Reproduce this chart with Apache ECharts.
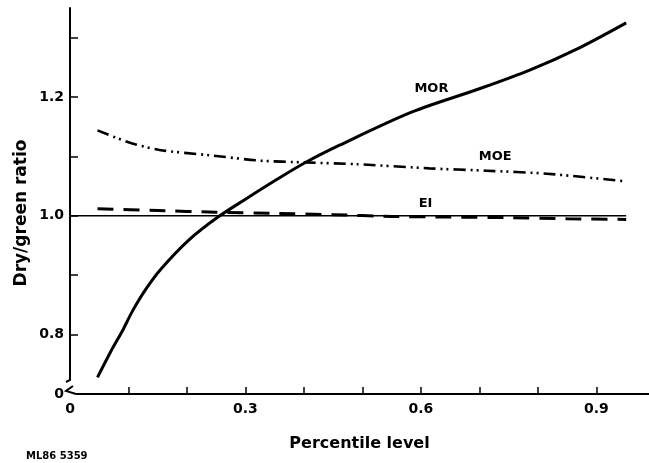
<!DOCTYPE html>
<html><head><meta charset="utf-8">
<script src="https://cdn.jsdelivr.net/npm/echarts@6/dist/echarts.min.js"></script>
<style>html,body{margin:0;padding:0;background:#fff}#c{width:649px;height:463px}</style>
</head><body><div id="c"></div>
<script>
// ---- data ----
const morX = [0.047, 0.07, 0.09, 0.107, 0.13, 0.156, 0.204, 0.253, 0.30, 0.35, 0.401, 0.461, 0.585, 0.70, 0.785, 0.871, 0.951];
const morY = [0.728, 0.772, 0.807, 0.840, 0.877, 0.911, 0.960, 0.998, 1.028, 1.059, 1.089, 1.119, 1.175, 1.214, 1.245, 1.283, 1.325];
const moeX = [0.047, 0.10, 0.153, 0.239, 0.324, 0.401, 0.49, 0.614, 0.712, 0.815, 0.951];
const moeY = [1.144, 1.124, 1.111, 1.102, 1.093, 1.090, 1.087, 1.080, 1.076, 1.071, 1.058];
const eiX = [0.047, 0.15, 0.25, 0.35, 0.45, 0.55, 0.65, 0.75, 0.85, 0.951];
const eiY = [1.012, 1.009, 1.006, 1.004, 1.002, 0.999, 0.998, 0.997, 0.995, 0.994];
const refX = [0, 0.951];
const refY = [1.0, 1.0];
const xTickValues = [0.1, 0.2, 0.3, 0.4, 0.5, 0.6, 0.7, 0.8, 0.9];
const xLabelValues = [0, 0.3, 0.6, 0.9];
const xLabelTexts = ['0', '0.3', '0.6', '0.9'];
const yTickValues = [0.8, 0.9, 1.0, 1.1, 1.2, 1.3];
const yLabelValues = [0.7, 0.8, 1.0, 1.2];
const yLabelTexts = ['0', '0.8', '1.0', '1.2'];
const curveNames = ['MOR', 'MOE', 'EI'];
const curveLabelX = [0.618, 0.727, 0.608];
const curveLabelY = [1.2135, 1.1004, 1.021];
const yBreakTop = 0.7236;

const zip = (xs, ys) => xs.map((x, i) => [x, ys[i]]);
const pick = (vals, texts) => v => { const i = vals.findIndex(a => Math.abs(a - v) < 1e-6); return i < 0 ? '' : texts[i]; };

const FONT = 'DejaVu Sans';
const chart = echarts.init(document.getElementById('c'), null, {renderer: 'canvas'});
const lab = (i) => ({
  data: [{coord: [curveLabelX[i], curveLabelY[i]], value: curveNames[i]}],
  symbol: 'circle', symbolSize: 0,
  label: {show: true, position: 'inside', formatter: curveNames[i], color: '#000', fontFamily: FONT, fontWeight: 'bold', fontSize: 13}
});
chart.setOption({
  animation: false,
  backgroundColor: '#fff',
  grid: {left: 70, right: 0, top: 8, bottom: 69, containLabel: false},
  xAxis: {
    type: 'value', min: 0, max: 0.99,
    axisLine: {show: true, lineStyle: {color: '#000', width: 2}},
    axisTick: {show: true, inside: true, length: 7, customValues: xTickValues, lineStyle: {color: '#000', width: 1.5}},
    axisLabel: {customValues: xLabelValues, formatter: pick(xLabelValues, xLabelTexts), color: '#000', fontFamily: FONT, fontWeight: 'bold', fontSize: 14, margin: 8},
    splitLine: {show: false},
    name: 'Percentile level', nameLocation: 'middle', nameGap: 42,
    nameTextStyle: {color: '#000', fontFamily: FONT, fontWeight: 'bold', fontSize: 16}
  },
  yAxis: {
    type: 'value', min: 0.7, max: 1.35,
    axisLine: {show: true, lineStyle: {color: '#000', width: 2}},
    axisTick: {show: true, inside: true, length: 8, customValues: yTickValues, lineStyle: {color: '#000', width: 1.5}},
    axisLabel: {customValues: yLabelValues, formatter: pick(yLabelValues, yLabelTexts), color: '#000', fontFamily: FONT, fontWeight: 'bold', fontSize: 14, margin: 6},
    splitLine: {show: false}
  },
  series: [
    {type: 'line', name: 'ref', data: zip(refX, refY), showSymbol: false, symbol: 'none', lineStyle: {color: '#000', width: 1.5}, z: 2},
    {type: 'line', name: 'MOR', data: zip(morX, morY), showSymbol: false, symbol: 'none', smooth: 0.3, lineStyle: {color: '#000', width: 3}, markPoint: lab(0), z: 3},
    {type: 'line', name: 'MOE', data: zip(moeX, moeY), showSymbol: false, symbol: 'none', smooth: 0.25, lineStyle: {color: '#000', width: 2.6, type: [12, 5, 2, 4, 2, 5]}, markPoint: lab(1), z: 3},
    {type: 'line', name: 'EI', data: zip(eiX, eiY), showSymbol: false, symbol: 'none', smooth: 0.25, lineStyle: {color: '#000', width: 3, type: [16, 10]}, markPoint: lab(2), z: 3}
  ]
});

// axis-break decoration and free texts
const p0 = chart.convertToPixel({gridIndex: 0}, [0, 0.7]);
const pb = chart.convertToPixel({gridIndex: 0}, [0, yBreakTop]);
chart.setOption({
  graphic: [
    {type: 'rect', z: 100, shape: {x: p0[0] - 4, y: pb[1], width: 10, height: p0[1] - pb[1] + 3}, style: {fill: '#fff'}},
    {type: 'polyline', z: 101, shape: {points: [[p0[0], pb[1] - 3], [p0[0], pb[1]], [p0[0] - 4, pb[1] + 2]]}, style: {stroke: '#000', lineWidth: 2, fill: null}},
    {type: 'polyline', z: 101, shape: {points: [[p0[0] + 3, p0[1] - 8], [p0[0] - 4, p0[1] - 3], [p0[0] + 6, p0[1]]]}, style: {stroke: '#000', lineWidth: 2, fill: null}},
    {type: 'text', z: 101, x: 22, y: 213, rotation: Math.PI / 2,
      style: {text: 'Dry/green ratio', fill: '#000', font: 'bold 17px "' + FONT + '"', textAlign: 'center', textVerticalAlign: 'middle'}},
    {type: 'text', z: 101, x: 26, y: 456,
      style: {text: 'ML86 5359', fill: '#000', font: 'bold 10px "' + FONT + '"', textAlign: 'left', textVerticalAlign: 'middle'}}
  ]
});
</script></body></html>
